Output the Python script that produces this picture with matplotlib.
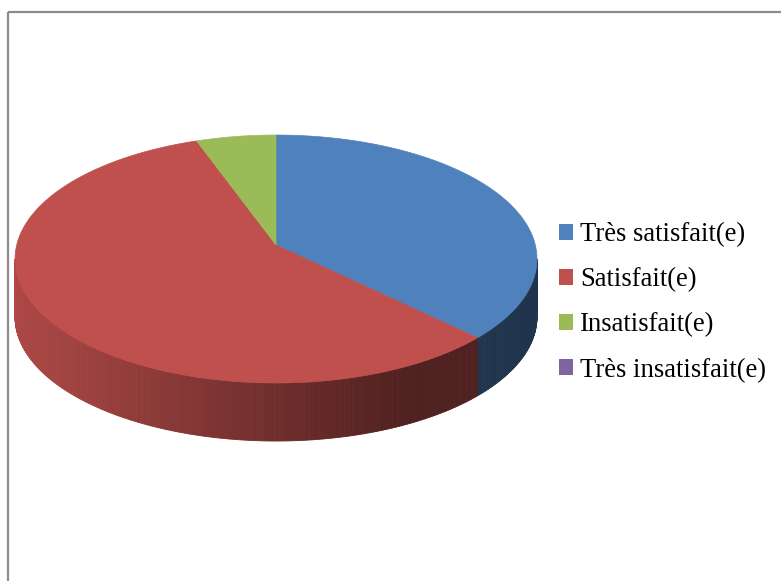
import numpy as np
import matplotlib.pyplot as plt
from matplotlib.patches import Rectangle, Patch
from matplotlib.collections import PolyCollection
from matplotlib.colors import to_rgb

labels = ['Très satisfait(e)', 'Satisfait(e)', 'Insatisfait(e)', 'Très insatisfait(e)']
values = [37.3, 57.2, 5.5, 0]
colors = ['#4F81BD', '#C0504D', '#9BBB59', '#8064A2']

W, H = 781, 581
fig = plt.figure(figsize=(W / 100, H / 100), dpi=100)
ax = fig.add_axes([0, 0, 1, 1])
ax.set_xlim(0, W)
ax.set_ylim(H, 0)
ax.axis('off')

# chart area border (cut off on the right and bottom like the original)
ax.add_patch(Rectangle((8, 12), 800, 600, fill=False, edgecolor='#8c8c8c', linewidth=1.6))

# pie geometry in pixels, with a little perspective
cx, cy = 276, 245
A, B, k = 259.3, 122.4, -0.113
depth = 58


def proj(theta, drop=0.0):
    u = np.sin(theta)
    v = -np.cos(theta)
    d = 1 + k * v
    return cx + A * u / d, cy + B * v / d + drop


frac = np.array(values, dtype=float) / sum(values)
edges = np.concatenate([[0], np.cumsum(frac)]) * 2 * np.pi

# visible side between the two horizontal extremes
t_r = np.arccos(k)
t_l = 2 * np.pi - t_r
xmin = cx - 261

side_polys, side_cols = [], []
for i in range(len(values)):
    a0, a1 = max(edges[i], t_r), min(edges[i + 1], t_l)
    if a1 <= a0:
        continue
    n = max(2, int(np.degrees(a1 - a0) * 2))
    ts = np.linspace(a0, a1, n + 1)
    base = np.array(to_rgb(colors[i]))
    for t0, t1 in zip(ts[:-1], ts[1:]):
        x0, y0 = proj(t0)
        x1, y1 = proj(t1)
        quad = [(x0, y0), (x1, y1), (x1, y1 + depth), (x0, y0 + depth)]
        xm = (x0 + x1) / 2
        f = max(0.41, 0.9 - 0.48 * (xm - xmin) / 385)
        side_polys.append(quad)
        side_cols.append(np.clip(base * f, 0, 1))

ax.add_collection(PolyCollection(side_polys, facecolors=side_cols, edgecolors=side_cols, linewidths=0.6))

# top faces
for i in range(len(values)):
    if frac[i] == 0:
        continue
    ts = np.linspace(edges[i], edges[i + 1], 200)
    xs, ys = proj(ts)
    pts = np.column_stack([np.r_[cx, xs], np.r_[cy, ys]])
    ax.fill(pts[:, 0], pts[:, 1], color=colors[i], linewidth=0.5, edgecolor=colors[i])

handles = [Patch(facecolor=c, edgecolor='none') for c in colors]
fig.legend(handles, labels, loc='center left', bbox_to_anchor=(559 / W, 1 - 302.5 / H),
           frameon=False, borderpad=0, borderaxespad=0,
           prop={'family': 'Liberation Serif', 'size': 19.2},
           handlelength=0.53, handleheight=0.53, handletextpad=0.25, labelspacing=0.755)

plt.savefig('out.png', dpi=100)
